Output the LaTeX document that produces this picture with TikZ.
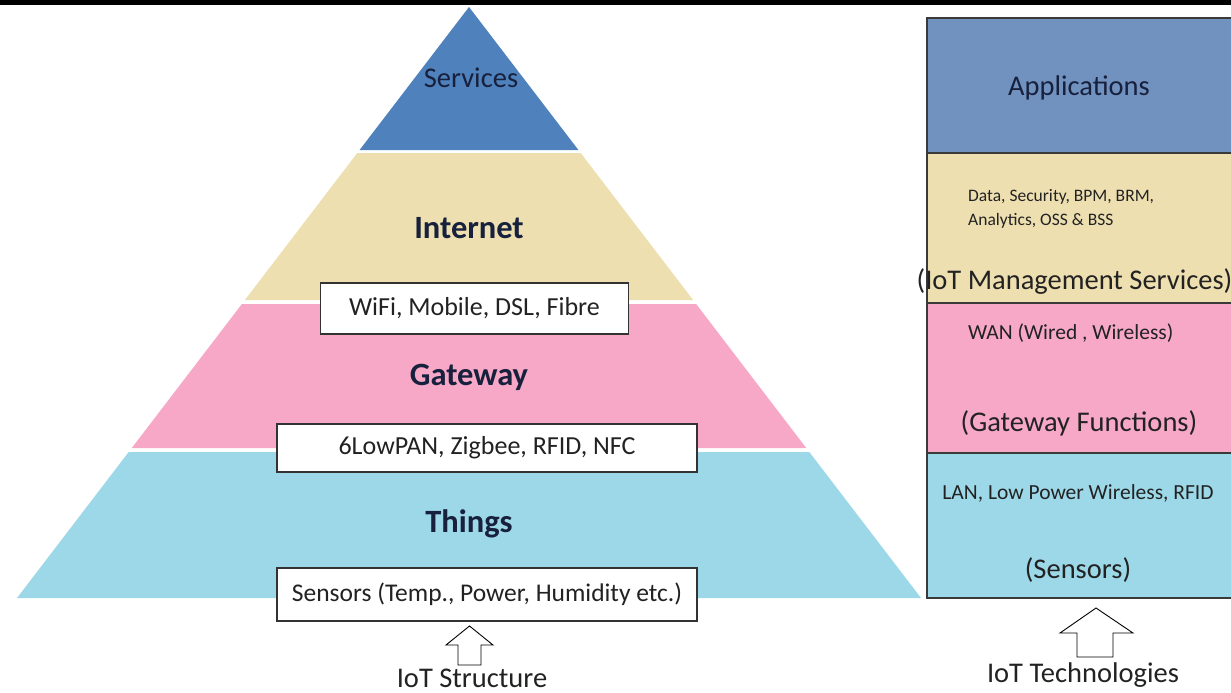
\documentclass[tikz,border=0pt]{standalone}
\usepackage{fontspec}
\setmainfont{Carlito}
\begin{document}
\begin{tikzpicture}[x=1pt,y=-1pt,
  lbl/.style={text=navy,inner sep=0pt,font=\fontsize{28.5}{32}\selectfont},
  blbl/.style={lbl,font=\fontsize{32.5}{36}\selectfont\bfseries},
  txt/.style={text=ink,inner sep=0pt},
  tagbox/.style={draw=boxline,line width=1.2pt,fill=white,inner sep=0pt,text=ink,font=\fontsize{26}{30}\selectfont},
  blockarrow/.style={draw=black,line width=0.9pt,fill=white,line join=miter},
  colbox/.style={draw=colline,line width=1.4pt}]
\definecolor{svcblue}{HTML}{4F81BD}
\definecolor{appblue}{HTML}{7191BF}
\definecolor{beige}{HTML}{EEDFB0}
\definecolor{pinkband}{HTML}{F7A8C6}
\definecolor{skyband}{HTML}{9DD8E8}
\definecolor{navy}{HTML}{17203C}
\definecolor{ink}{HTML}{222222}
\definecolor{boxline}{HTML}{333333}
\definecolor{colline}{HTML}{3A3A3A}

% page frame
\useasboundingbox (0,0) rectangle (1231,693);
\fill[white] (0,0) rectangle (1231,693);
\fill[black] (0,0) rectangle (1231,5);

% ---- pyramid bands ----
\fill[svcblue]  (469,7) -- (578.4,150) -- (359.6,150) -- cycle;
\fill[beige]    (357.3,153) -- (580.7,153) -- (693.1,300) -- (244.9,300) -- cycle;
\fill[pinkband] (241.9,304) -- (696.1,304) -- (806.2,448) -- (131.8,448) -- cycle;
\fill[skyband]  (128.7,452) -- (809.3,452) -- (921,598) -- (17,598) -- cycle;

\node[lbl]  (services) at (471,78)  {Services};
\node[blbl] (internet) at (469,228) {Internet};
\node[blbl] (gateway)  at (469,377) {Gateway};
\node[blbl] (things)   at (469,524) {Things};

\node[tagbox,minimum width=308pt,minimum height=51pt] (netbox) at (474.5,308.5) {WiFi, Mobile, DSL, Fibre};
\node[tagbox,minimum width=420pt,minimum height=48pt] (panbox) at (487,448) {6LowPAN, Zigbee, RFID, NFC};
\node[tagbox,minimum width=420pt,minimum height=53pt,font=\fontsize{25.5}{30}\selectfont] (senbox) at (487,594.5) {Sensors (Temp., Power, Humidity etc.)};

% hollow arrow under the pyramid
\coordinate (ltip) at (469.5,626);
\draw[blockarrow] (ltip) -- (493,645) -- (481,645) -- (481,665) -- (458,665) -- (458,645) -- (446,645) -- cycle;
\node[lbl,text=ink,anchor=base] (structure) at (472,687) {IoT Structure};

% ---- technology column ----
\fill[appblue]  (927,18)  rectangle (1233,153);
\fill[beige]    (927,153) rectangle (1233,303);
\fill[pinkband] (927,303) rectangle (1233,453);
\fill[skyband]  (927,453) rectangle (1233,598);
\draw[colbox] (927,18) rectangle (1233,598);
\draw[colbox] (927,153) -- (1233,153);
\draw[colbox] (927,303) -- (1233,303);
\draw[colbox] (927,453) -- (1233,453);

\node[lbl] (apps) at (1079,88) {Applications};
\node[txt,anchor=west,align=left,font=\fontsize{17.5}{24}\selectfont] (mgmt) at (968,209)
  {Data, Security, BPM, BRM,\\Analytics, OSS \& BSS};
\node[lbl,text=ink] (mgmtlbl) at (1074.5,282) {(IoT Management Services)};
\node[txt,anchor=west,font=\fontsize{21.5}{24}\selectfont] (wan) at (968,333) {WAN (Wired , Wireless)};
\node[lbl,text=ink] (gwlbl) at (1079,423) {(Gateway Functions)};
\node[txt,font=\fontsize{21.5}{24}\selectfont] (lan) at (1078,493) {LAN, Low Power Wireless, RFID};
\node[lbl,text=ink] (senslbl) at (1078,570) {(Sensors)};

% hollow arrow under the column
\coordinate (rtip) at (1096,608);
\draw[blockarrow] (rtip) -- (1133,633) -- (1113,633) -- (1113,657) -- (1077,657) -- (1077,633) -- (1060,633) -- cycle;
\node[lbl,text=ink,anchor=base] (technologies) at (1083,682) {IoT Technologies};
\end{tikzpicture}
\end{document}
